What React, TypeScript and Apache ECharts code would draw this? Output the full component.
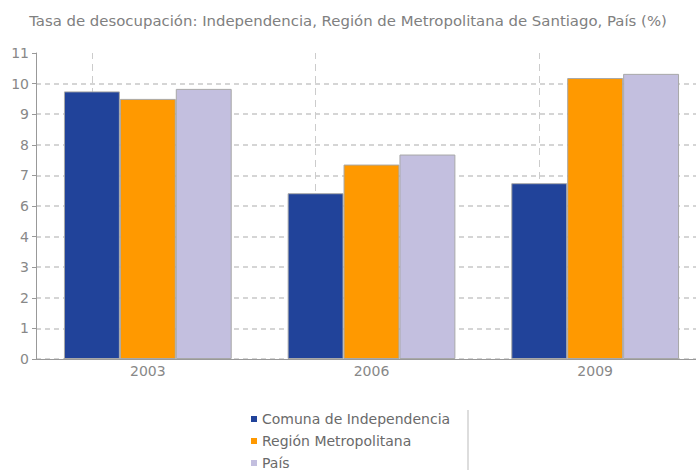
import React, { useEffect, useRef } from "react";
import * as echarts from "echarts";

const TITLE = "Tasa de desocupación: Independencia, Región de Metropolitana de Santiago, País (%)";
const categories = ["2003", "2006", "2009"];
const seriesNames = ["Comuna de Independencia", "Región Metropolitana", "País"];
const comuna = [9.62, 5.96, 6.32];
const region = [9.35, 6.99, 10.1];
const pais = [9.71, 7.35, 10.25];
const colors = ["#21439a", "#ff9900", "#c3bfdf"];

const FONT = "'DejaVu Sans', Verdana, sans-serif";

export default function App() {
  const ref = useRef<HTMLDivElement>(null);
  useEffect(() => {
    if (!ref.current) return;
    const chart = echarts.init(ref.current, null, { renderer: "svg" });
    const values = [comuna, region, pais];
    chart.setOption({
      animation: false,
      textStyle: { fontFamily: FONT },
      title: {
        text: TITLE,
        left: "center",
        top: 8,
        textStyle: { fontFamily: FONT, fontSize: 14.9, fontWeight: "normal", color: "#808080" },
      },
      legend: {
        orient: "vertical",
        left: 246,
        top: 407,
        height: 90,
        itemWidth: 6,
        itemHeight: 6,
        itemGap: 8,
        icon: "rect",
        itemStyle: { borderWidth: 0 },
        data: seriesNames,
        textStyle: { fontFamily: FONT, fontSize: 14, color: "#6a6a6a" },
      },
      grid: { left: 36, width: 671, top: 53, bottom: 111, outerBoundsMode: "none", containLabel: false },
      xAxis: {
        type: "category",
        data: categories,
        axisLine: { lineStyle: { color: "#999" } },
        axisTick: { alignWithLabel: true, length: 5, lineStyle: { color: "#999" } },
        axisLabel: { fontFamily: FONT, fontSize: 14, color: "#888", margin: 5 },
        splitLine: { show: false },
      },
      yAxis: {
        type: "value",
        min: 0,
        max: 11,
        interval: 1.1,
        axisLine: { show: true, lineStyle: { color: "#999" } },
        axisTick: { show: true, length: 4, lineStyle: { color: "#999" } },
        axisLabel: {
          fontFamily: FONT,
          fontSize: 14,
          color: "#888",
          margin: 7,
          formatter: (v: number) => String(Math.round(Math.round(v * 10) / 10)),
        },
        splitLine: {
          show: true,
          showMaxLine: false,
          lineStyle: { color: "#c8c8c8", width: 1.5, type: [5, 4] },
        },
      },
      series: seriesNames.map((name, i) => ({
        name,
        type: "bar",
        data: values[i],
        barGap: "0%",
        barCategoryGap: "25%",
        z: 10,
        itemStyle: { color: colors[i], borderColor: "#a8a8a8", borderWidth: 1 },
        ...(i === 0
          ? {
              markLine: {
                silent: true,
                symbol: "none",
                z: 1,
                label: { show: false },
                lineStyle: { color: "#cccccc", width: 1, type: [7, 5] },
                data: categories.map((c) => ({ xAxis: c })),
              },
            }
          : {}),
      })),
      graphic: [
        {
          type: "line",
          shape: { x1: 468, y1: 410, x2: 468, y2: 470 },
          style: { stroke: "#bbbbbb", lineWidth: 1 },
        },
      ],
    });
    return () => chart.dispose();
  }, []);
  return <div ref={ref} style={{ width: 696, height: 470, position: "absolute", left: 0, top: 0 }} />;
}
